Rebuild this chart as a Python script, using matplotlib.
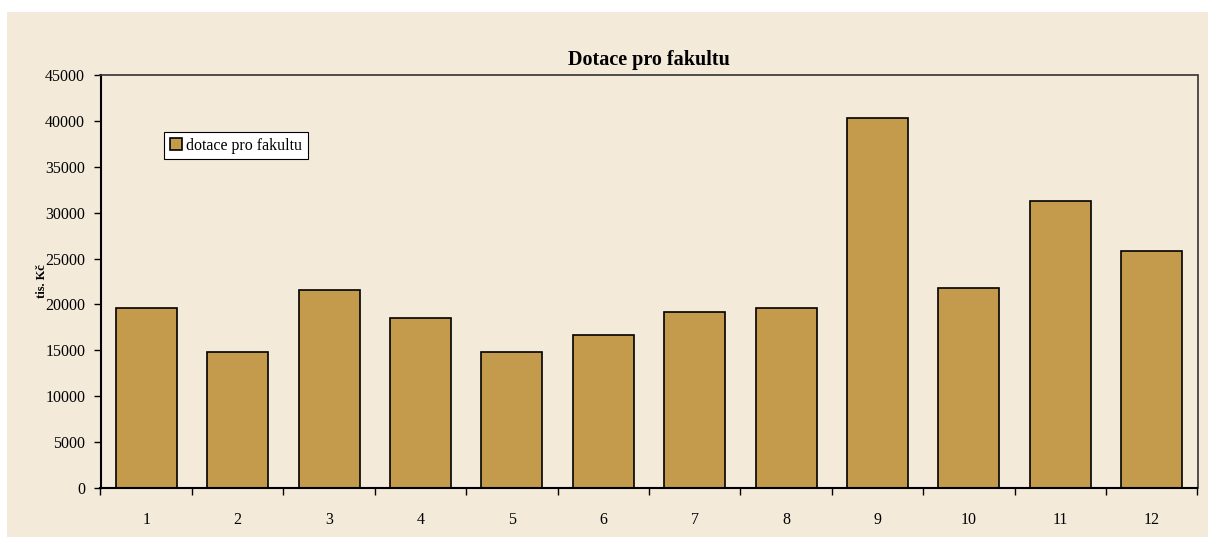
import numpy as np
import matplotlib
matplotlib.use('Agg')
from matplotlib import pyplot as plt
from matplotlib.patches import Rectangle

categories = ['1', '2', '3', '4', '5', '6', '7', '8', '9', '10', '11', '12']
values = [19560, 14780, 21530, 18470, 14780, 16640, 19230, 19640, 40270, 21780, 31270, 25830]
y_ticks = [0, 5000, 10000, 15000, 20000, 25000, 30000, 35000, 40000, 45000]

bg = '#F3EADA'
bar_col = '#C49A4C'

plt.rcParams['font.family'] = ['Liberation Serif', 'DejaVu Serif']

fig = plt.figure(figsize=(12.15, 5.47), dpi=100, facecolor='white')
# beige chart area
fig.patches.append(Rectangle((7/1215, 10/547), 1201/1215, 525/547,
                             transform=fig.transFigure, facecolor=bg, edgecolor='none', zorder=-5))

ax = fig.add_axes([100.5/1215, 1 - 488/547, 1097/1215, 413/547])
ax.set_facecolor(bg)

x = np.arange(len(categories))
ax.bar(x, values, width=0.667, color=bar_col, edgecolor='black', linewidth=1.2,
       label='dotace pro fakultu', zorder=2)

ax.set_xlim(-0.5, len(categories) - 0.5)
ax.set_ylim(0, 45000)
ax.set_yticks(y_ticks)
ax.set_yticklabels([str(v) for v in y_ticks], fontsize=11.5)
ax.set_xticks(x)
ax.set_xticklabels(categories, fontsize=11.5)
ax.set_xticks(np.arange(len(categories) + 1) - 0.5, minor=True)
ax.tick_params(axis='x', which='major', length=0, pad=17)
ax.tick_params(axis='x', which='minor', length=5, direction='out', width=1)
ax.tick_params(axis='y', length=5, direction='out', width=1, pad=6)

for s in ['left', 'bottom']:
    ax.spines[s].set_linewidth(1.5)
    ax.spines[s].set_color('black')
for s in ['top', 'right']:
    ax.spines[s].set_linewidth(1.2)
    ax.spines[s].set_color('#333333')

ax.set_title('Dotace pro fakultu', fontsize=14.5, fontweight='bold', pad=7)
ax.set_ylabel('tis. Kč', fontsize=9, fontweight='bold')
ax.yaxis.set_label_coords(-0.048, 0.5)

leg = ax.legend(loc='upper left', bbox_to_anchor=(0.058, 0.862), fontsize=11.5,
                frameon=True, fancybox=False, handlelength=0.75, handleheight=0.75,
                handletextpad=0.3, borderpad=0.35, borderaxespad=0)
leg.get_frame().set_edgecolor('black')
leg.get_frame().set_linewidth(0.8)
leg.get_frame().set_facecolor('white')
leg.get_frame().set_alpha(1)

fig.savefig('out.png', dpi=100, facecolor='white')
